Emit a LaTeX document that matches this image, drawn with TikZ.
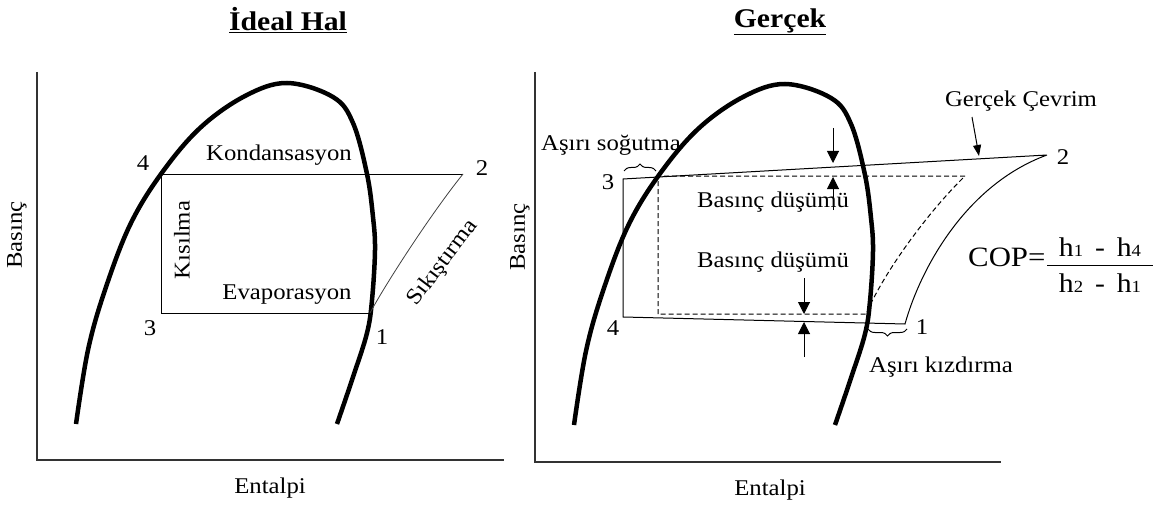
\documentclass[tikz,border=0pt]{standalone}
\usepackage{fontspec}
\setmainfont{Liberation Serif}[FakeStretch=1.1]
\usetikzlibrary{arrows.meta, decorations.pathreplacing}
\newcommand{\hsub}[1]{{\fontsize{17}{17}\selectfont #1}}

\begin{document}
\begin{tikzpicture}[x=1pt, y=-1pt,
  dome/.style={line width=4.5pt},
  cyc/.style={line width=1pt},
  axis/.style={line width=1.4pt, black!80},
  lbl/.style={font=\fontsize{22.5}{26}\selectfont, inner sep=1pt},
  ttl/.style={font=\bfseries\fontsize{27}{30}\selectfont, inner sep=1pt},
  drop/.style={line width=1pt, -{Triangle[width=12pt,length=12pt]}},
  brc/.style={decorate, decoration={brace, amplitude=7pt}, line width=1pt}]
  \useasboundingbox (0,0) rectangle (1162,508);

  % titles
  \node[ttl] (ideal) at (288,20) {\underline{İdeal Hal}};
  \node[ttl] (gercek) at (780,22) {\underline{Gerçek}};

  % axes
  \draw[axis] (37,72) -- (37,460) -- (504,460);
  \draw[axis] (535,72) -- (535,462) -- (1001,462);
  \node[lbl, rotate=90] (pL) at (17,235) {Basınç};
  \node[lbl, rotate=90] (pR) at (520,237) {Basınç};
  \node[lbl] (hL) at (270,488) {Entalpi};
  \node[lbl] (hR) at (770,490) {Entalpi};

  % saturation domes
  \foreach \dx/\dy in {0/0, 498/1}
    \draw[dome, shift={(\dx,\dy)}] plot[smooth, tension=0.6] coordinates
      {(76,424) (88,350) (105,290) (130,225) (161,174) (200,128) (245,96)
       (287,83) (333,97) (353,123) (367,174) (373,217) (375,250) (372,300)
       (367,333) (353,377) (337,424)};

  % ideal cycle
  \coordinate (L4) at (161,174);
  \coordinate (L2) at (463,174);
  \coordinate (L3) at (161,313);
  \coordinate (L1) at (370,313);
  \draw[cyc] (L2) -- (L4) -- (L3) -- (L1);
  \draw[line width=0.8pt, black!75] (L1) .. controls (385,285) and (430,215) .. (L2);
  \node[lbl] (n4) at (143,163) {4};
  \node[lbl] (n2) at (482,168) {2};
  \node[lbl] (n3) at (150,328) {3};
  \node[lbl] (n1) at (382,337) {1};
  \node[lbl] (kond) at (279,155) {Kondansasyon};
  \node[lbl] (evap) at (287,295) {Evaporasyon};
  \node[lbl, rotate=90] (kis) at (182,240) {Kısılma};
  \node[lbl, rotate=53] (sik) at (443,263) {Sıkıştırma};

  % real cycle
  \coordinate (R3) at (623,179);
  \coordinate (R2) at (1047,155);
  \coordinate (R4) at (623,317);
  \coordinate (R1) at (905,324);
  \draw[cyc] (R2) -- (R3) -- (R4) -- (R1) .. controls (920,270) and (965,185) .. (R2);
  \coordinate (D1) at (658,176);
  \coordinate (D2) at (965,176);
  \coordinate (D3) at (866,314);
  \coordinate (D4) at (658,314);
  \draw[cyc, dash pattern=on 5pt off 3pt] (D4) -- (D1) -- (D2)
    .. controls (930,210) and (885,270) .. (D3) -- cycle;
  \node[lbl] (m3) at (608,182) {3};
  \node[lbl] (m4) at (613,328) {4};
  \node[lbl] (m1) at (922,327) {1};
  \node[lbl] (m2) at (1063,157) {2};

  % pressure drops
  \coordinate (a1) at (833,128);
  \coordinate (a2) at (833,163);
  \coordinate (a3) at (833,210);
  \coordinate (a4) at (833,177);
  \coordinate (b1) at (804,278);
  \coordinate (b2) at (804,314);
  \coordinate (b3) at (804,357);
  \coordinate (b4) at (804,322);
  \draw[drop] (a1) -- (a2);
  \draw[drop] (a3) -- (a4);
  \draw[drop] (b1) -- (b2);
  \draw[drop] (b3) -- (b4);
  \node[lbl] (dp1) at (773,202) {Basınç düşümü};
  \node[lbl] (dp2) at (773,262) {Basınç düşümü};

  % subcooling / superheating
  \draw[brc] (624,171) -- (656,171);
  \draw[brc] (907,329) -- (868,329);
  \node[lbl] (sub) at (611,145) {Aşırı soğutma};
  \node[lbl] (sup) at (941,367) {Aşırı kızdırma};

  \node[lbl] (gc) at (1021,101) {Gerçek Çevrim};
  \coordinate (gctail) at (972,117);
  \coordinate (gctip) at (979,156);
  \draw[line width=1pt, -{Triangle[width=8pt,length=11pt]}] (gctail) -- (gctip);

  % COP
  \node[lbl, font=\fontsize{28}{32}\selectfont, anchor=west] (cop) at (967,257) {COP=};
  \coordinate (fb1) at (1047,265);
  \coordinate (fb2) at (1153,265);
  \draw[line width=1pt] (fb1) -- (fb2);
  \node[lbl, font=\fontsize{27}{30}\selectfont] (num) at (1100,247) {h\hsub{1} \,-\, h\hsub{4}};
  \node[lbl, font=\fontsize{27}{30}\selectfont] (den) at (1100,283) {h\hsub{2} \,-\, h\hsub{1}};
\end{tikzpicture}
\end{document}
